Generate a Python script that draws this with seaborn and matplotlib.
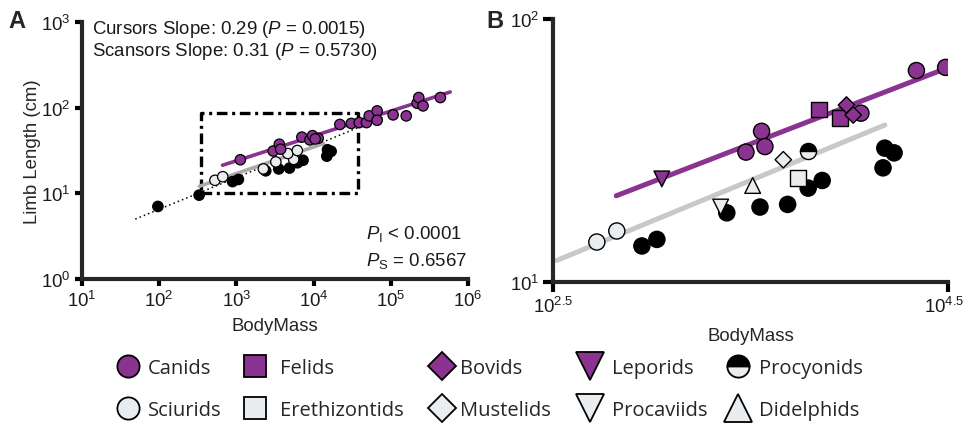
import numpy as np
import pandas as pd
import matplotlib
matplotlib.use("Agg")
import matplotlib.pyplot as plt
import matplotlib.transforms as mtransforms
import seaborn as sns
from matplotlib.lines import Line2D
from matplotlib.ticker import FixedLocator, FixedFormatter, NullLocator

# ---------------- data: log10 body mass, log10 limb length (cm) ----------------
canids_m = [3.477, 3.556, 3.573, 4.059, 4.340, 4.488]
canids_l = [1.494, 1.573, 1.515, 1.642, 1.804, 1.816]
felids_m = [3.848, 3.952]
felids_l = [1.656, 1.624]
bovids_m = [3.986, 4.020]
bovids_l = [1.673, 1.635]
leporids_m = [3.051]
leporids_l = [1.392]
procyonids_m = [3.789]
procyonids_l = [1.500]
sciurids_m = [2.722, 2.823]
sciurids_l = [1.152, 1.194]
erethizontids_m = [3.742]
erethizontids_l = [1.396]
mustelids_m = [3.666]
mustelids_l = [1.465]
procaviids_m = [3.349]
procaviids_l = [1.285]
didelphids_m = [3.511]
didelphids_l = [1.367]
other_m = [1.983, 2.517, 2.950, 3.026, 3.380, 3.548, 3.688, 3.792, 3.863, 4.171, 4.180, 4.227]
other_l = [0.847, 0.979, 1.137, 1.162, 1.263, 1.285, 1.295, 1.357, 1.386, 1.434, 1.509, 1.491]
big_cursor_m = [4.591, 4.685, 4.720, 4.823, 4.823, 5.030, 5.200, 5.341, 5.362, 5.418, 5.642]
big_cursor_l = [1.826, 1.826, 1.904, 1.962, 1.853, 1.916, 1.904, 2.052, 2.118, 2.021, 2.118]

# regression lines (slope, intercept in log10 space) and drawn x-ranges
cursor_slope, cursor_int = 0.29, 0.510
scansor_slope, scansor_int = 0.31, 0.301
all_slope, all_int = 0.37, 0.074
cursor_range_a, cursor_range_b = [2.82, 5.77], [2.82, 4.47]
scansor_range_a, scansor_range_b = [2.52, 4.13], [2.52, 4.18]
all_range_a = [1.69, 4.90]
zoom_box_m = [2.54, 4.58]
zoom_box_l = [1.00, 1.94]

# tick labels
a_xticks = [1, 2, 3, 4, 5, 6]
a_xticklabels = ["$10^{1}$", "$10^{2}$", "$10^{3}$", "$10^{4}$", "$10^{5}$", "$10^{6}$"]
a_yticks = [0, 1, 2, 3]
a_yticklabels = ["$10^{0}$", "$10^{1}$", "$10^{2}$", "$10^{3}$"]
b_xticks = [2.5, 4.5]
b_xticklabels = ["$10^{2.5}$", "$10^{4.5}$"]
b_yticks = [1, 2]
b_yticklabels = ["$10^{1}$", "$10^{2}$"]

families = {
    "Other": (other_m, other_l, "Other"),
    "Sciurids": (sciurids_m, sciurids_l, "Scansor"),
    "Erethizontids": (erethizontids_m, erethizontids_l, "Scansor"),
    "Mustelids": (mustelids_m, mustelids_l, "Scansor"),
    "Procaviids": (procaviids_m, procaviids_l, "Scansor"),
    "Didelphids": (didelphids_m, didelphids_l, "Scansor"),
    "Procyonids": (procyonids_m, procyonids_l, "Scansor"),
    "Canids": (canids_m, canids_l, "Cursor"),
    "Felids": (felids_m, felids_l, "Cursor"),
    "Bovids": (bovids_m, bovids_l, "Cursor"),
    "Leporids": (leporids_m, leporids_l, "Cursor"),
    "BigCursors": (big_cursor_m, big_cursor_l, "Cursor"),
}
rows = []
for fam, (ms, ls, grp) in families.items():
    for m, l in zip(ms, ls):
        rows.append(dict(family=fam, group=grp, mass=10 ** m, length=10 ** l, logm=m, logl=l))
df = pd.DataFrame(rows)

# ---------------- style ----------------
sns.set_style("ticks")
plt.rcParams["font.family"] = ["Liberation Sans", "DejaVu Sans"]
plt.rcParams["mathtext.fontset"] = "custom"
plt.rcParams["mathtext.rm"] = "Liberation Sans"
plt.rcParams["mathtext.it"] = "Liberation Sans:italic"
plt.rcParams["mathtext.bf"] = "Liberation Sans:bold"

PURPLE = "#8A3391"
LIGHT = "#E9EDF0"
FS = 13.4

W, H = 966, 427
def fx(px):
    return px / W
def fy(py):
    return 1 - py / H

fig = plt.figure(figsize=(W / 100, H / 100), dpi=100)
axA = fig.add_axes([fx(82), fy(280), 386 / W, 257 / H])
axB = fig.add_axes([fx(553), fy(283), 395 / W, 263 / H])

def style_axes(ax, xt, xtl, yt, ytl, xlim, ylim, ticklen):
    ax.set_xscale("log")
    ax.set_yscale("log")
    ax.set_xlim(10 ** xlim[0], 10 ** xlim[1])
    ax.set_ylim(10 ** ylim[0], 10 ** ylim[1])
    ax.xaxis.set_major_locator(FixedLocator([10 ** v for v in xt]))
    ax.xaxis.set_major_formatter(FixedFormatter(xtl))
    ax.yaxis.set_major_locator(FixedLocator([10 ** v for v in yt]))
    ax.yaxis.set_major_formatter(FixedFormatter(ytl))
    ax.xaxis.set_minor_locator(NullLocator())
    ax.yaxis.set_minor_locator(NullLocator())
    for s in ["top", "right"]:
        ax.spines[s].set_visible(False)
    for s in ["left", "bottom"]:
        ax.spines[s].set_linewidth(3)
    ax.tick_params(which="major", direction="out", length=ticklen, width=3,
                   labelsize=FS, pad=3, color="black", labelcolor="#1a1a1a")
    ax.set_facecolor("none")

# ---------------- Panel A ----------------
xs = np.array(all_range_a)
axA.plot(10 ** xs, 10 ** (all_int + all_slope * xs), color="black", lw=1.1,
         ls=(0, (1, 2)), zorder=1)
bx = [zoom_box_m[0], zoom_box_m[1], zoom_box_m[1], zoom_box_m[0], zoom_box_m[0]]
by = [zoom_box_l[0], zoom_box_l[0], zoom_box_l[1], zoom_box_l[1], zoom_box_l[0]]
axA.plot([10 ** v for v in bx], [10 ** v for v in by], color="black", lw=2.4,
         ls=(0, (3.2, 1.4, 0.9, 1.4)), zorder=1.5, solid_joinstyle="miter")
xs = np.array(scansor_range_a)
axA.plot(10 ** xs, 10 ** (scansor_int + scansor_slope * xs), color="#ABABAB", lw=2.6, zorder=2)
xs = np.array(cursor_range_a)
axA.plot(10 ** xs, 10 ** (cursor_int + cursor_slope * xs), color=PURPLE, lw=2.6, zorder=2)

sns.scatterplot(data=df, x="mass", y="length", hue="group",
                palette={"Other": "black", "Scansor": LIGHT, "Cursor": PURPLE},
                s=56, edgecolor="black", linewidth=0.9, legend=False, ax=axA, zorder=3)
style_axes(axA, a_xticks, a_xticklabels, a_yticks, a_yticklabels, [1, 6], [0, 3], 5)
axA.set_xlabel("BodyMass", fontsize=FS)
axA.set_ylabel("Limb Length (cm)", fontsize=FS)
axA.xaxis.set_label_coords(0.5, (280 - 318) / 257)
axA.yaxis.set_label_coords((41 - 82) / 386, 0.5)

fig.text(fx(92), fy(29), "Cursors Slope: 0.29 ($\\mathit{P}$ = 0.0015)", fontsize=FS,
         va="center", ha="left", color="#1a1a1a")
fig.text(fx(92), fy(51), "Scansors Slope: 0.31 ($\\mathit{P}$ = 0.5730)", fontsize=FS,
         va="center", ha="left", color="#1a1a1a")
fig.text(fx(366), fy(234), "$\\mathit{P}_{\\mathrm{I}}$ < 0.0001", fontsize=FS,
         va="center", ha="left", color="#1a1a1a")
fig.text(fx(366), fy(261), "$\\mathit{P}_{\\mathrm{S}}$ = 0.6567", fontsize=FS,
         va="center", ha="left", color="#1a1a1a")
fig.text(fx(8), fy(22), "A", fontsize=17, fontweight="bold", va="center", ha="left")
fig.text(fx(486), fy(22), "B", fontsize=17, fontweight="bold", va="center", ha="left")

# ---------------- Panel B ----------------
xs = np.array(scansor_range_b)
axB.plot(10 ** xs, 10 ** (scansor_int + scansor_slope * xs), color="#C8C8CA", lw=3.6, zorder=1)
xs = np.array(cursor_range_b)
axB.plot(10 ** xs, 10 ** (cursor_int + cursor_slope * xs), color=PURPLE, lw=3.6, zorder=1)

dfb = df[(df.logm >= 2.5) & (df.logm <= 4.5) & (df.logl >= 1) & (df.logl <= 2)]
dfb_main = dfb[dfb.family != "Procyonids"]
fam_color = {"Other": "black", "Sciurids": LIGHT, "Erethizontids": LIGHT, "Mustelids": LIGHT,
             "Procaviids": LIGHT, "Didelphids": LIGHT, "Canids": PURPLE, "Felids": PURPLE,
             "Bovids": PURPLE, "Leporids": PURPLE, "BigCursors": PURPLE}
fam_marker = {"Other": "o", "Sciurids": "o", "Erethizontids": "s", "Mustelids": "D",
              "Procaviids": "v", "Didelphids": "^", "Canids": "o", "Felids": "s",
              "Bovids": "D", "Leporids": "v", "BigCursors": "o"}
fam_size = {"Other": 135, "Sciurids": 135, "Erethizontids": 128, "Mustelids": 70,
            "Procaviids": 128, "Didelphids": 128, "Canids": 135, "Felids": 128,
            "Bovids": 70, "Leporids": 128, "BigCursors": 135}
sns.scatterplot(data=dfb_main, x="mass", y="length", hue="family", style="family",
                size="family", palette=fam_color, markers=fam_marker, sizes=fam_size,
                edgecolor="black", linewidth=1.0, legend=False, ax=axB, zorder=3)
pr = dfb[dfb.family == "Procyonids"]
axB.plot(pr.mass, pr.length, ls="none", marker="o", ms=11.6, fillstyle="top",
         markerfacecolor="black", markerfacecoloralt=LIGHT, markeredgecolor="black",
         markeredgewidth=1.0, zorder=4)
style_axes(axB, b_xticks, b_xticklabels, b_yticks, b_yticklabels, [2.5, 4.5], [1, 2], 7)
axB.set_xlabel("BodyMass", fontsize=FS)
axB.set_ylabel("")
axB.xaxis.set_label_coords(0.5, (283 - 328) / 263)
# keep the right-most tick label inside the canvas
last = axB.get_xticklabels()[-1]
last.set_transform(last.get_transform() +
                   mtransforms.ScaledTranslation(-4 / 100, 0, fig.dpi_scale_trans))

# ---------------- Legend ----------------
def h(marker, face, ms, half=False):
    if half:
        return Line2D([], [], ls="none", marker="o", ms=ms, fillstyle="top",
                      markerfacecolor="black", markerfacecoloralt=LIGHT,
                      markeredgecolor="black", markeredgewidth=1.3)
    return Line2D([], [], ls="none", marker=marker, ms=ms, markerfacecolor=face,
                  markeredgecolor="black", markeredgewidth=1.3)

legend_cols = [
    ([h("o", PURPLE, 16), h("o", LIGHT, 16)], ["Canids", "Sciurids"], 128, 0.4),
    ([h("s", PURPLE, 15.5), h("s", LIGHT, 15.5)], ["Felids", "Erethizontids"], 255, 0.65),
    ([h("D", PURPLE, 14.5), h("D", LIGHT, 14.5)], ["Bovids", "Mustelids"], 442, 0.3),
    ([h("v", PURPLE, 19.5), h("v", LIGHT, 19.5)], ["Leporids", "Procaviids"], 590, 0.5),
    ([h("o", None, 16, half=True), h("^", LIGHT, 19.5)], ["Procyonids", "Didelphids"], 738, 0.45),
]
LFS = 14.5
fs_px = LFS * 100 / 72
for handles, labels, cx, pad in legend_cols:
    fig.legend(handles=handles, labels=labels, loc="center left",
               bbox_to_anchor=(fx(cx - 0.6 * fs_px), fy(390)), frameon=False,
               handlelength=1.2, handletextpad=pad, borderpad=0, borderaxespad=0,
               labelspacing=1.05, prop={"family": "Open Sans", "size": LFS})

fig.savefig("out.png", dpi=100)
